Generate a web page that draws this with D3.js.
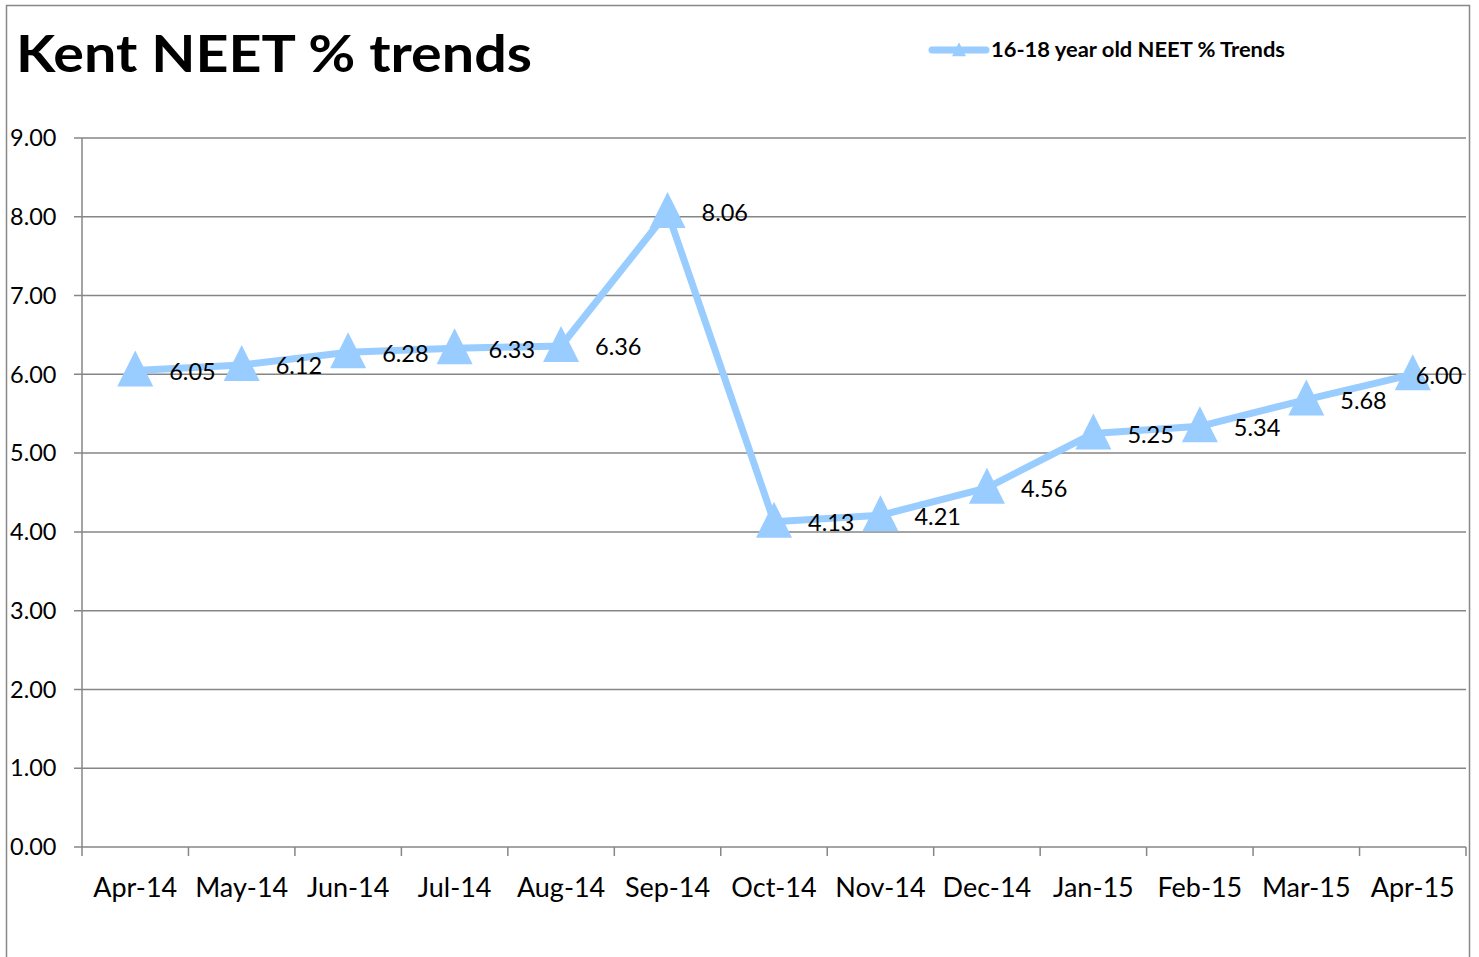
<!DOCTYPE html>
<html>
<head>
<meta charset="utf-8">
<script src="https://cdn.jsdelivr.net/npm/d3@7"></script>
<style>
  body { margin: 0; background: #fff; }
  svg text { font-family: Lato, "Open Sans", sans-serif; fill: #000; }
  .grid line { stroke: #868686; stroke-width: 1.5; }
</style>
</head>
<body>
<div id="chart"></div>
<script>
const months = ["Apr-14", "May-14", "Jun-14", "Jul-14", "Aug-14", "Sep-14", "Oct-14",
    "Nov-14", "Dec-14", "Jan-15", "Feb-15", "Mar-15", "Apr-15"];
const neet = [6.05, 6.12, 6.28, 6.33, 6.36, 8.06, 4.13, 4.21, 4.56, 5.25, 5.34, 5.68, 6.00];
const yTicks = [0, 1, 2, 3, 4, 5, 6, 7, 8, 9];
const seriesName = "16-18 year old NEET % Trends";
const title = "Kent NEET % trends";

const W = 1479, H = 957;
const margin = {top: 138, right: 13, bottom: 110, left: 82},
    width = W - margin.left - margin.right,
    height = H - margin.top - margin.bottom;
const lineColor = "#99ccff";

const svg = d3.select("#chart").append("svg")
    .attr("width", W)
    .attr("height", H);

// outer frame
svg.append("rect")
    .attr("x", 6.5).attr("y", 5.5)
    .attr("width", 1463).attr("height", 960)
    .attr("fill", "none")
    .attr("stroke", "#888")
    .attr("stroke-width", 1.5);

svg.append("text")
    .attr("x", 16).attr("y", 72)
    .style("font-size", "51px")
    .style("font-weight", "bold")
    .attr("textLength", 516)
    .attr("lengthAdjust", "spacingAndGlyphs")
    .text(title);

const g = svg.append("g")
    .attr("transform", "translate(" + margin.left + "," + margin.top + ")");

const x = d3.scaleBand()
    .domain(months)
    .range([0, width]);

const y = d3.scaleLinear()
    .domain([0, 9])
    .range([height, 0]);

// gridlines
g.append("g").attr("class", "grid")
    .selectAll("line").data(yTicks).enter()
    .append("line")
    .attr("x1", -8)
    .attr("x2", width)
    .attr("y1", d => y(d))
    .attr("y2", d => y(d));

// y axis line
g.append("line")
    .attr("x1", 0).attr("x2", 0)
    .attr("y1", 0).attr("y2", height)
    .attr("stroke", "#868686").attr("stroke-width", 1.5);

g.selectAll(".ylab").data(yTicks).enter()
    .append("text")
    .attr("class", "ylab")
    .attr("x", -72)
    .attr("y", d => y(d))
    .attr("dy", "0.35em")
    .style("font-size", "23.5px")
    .text(d => d.toFixed(2));

// x ticks between categories
const tickPos = months.map(m => x(m)).concat([width]);
g.selectAll(".xtick").data(tickPos).enter()
    .append("line")
    .attr("x1", d => d).attr("x2", d => d)
    .attr("y1", height).attr("y2", height + 9)
    .attr("stroke", "#868686").attr("stroke-width", 1.5);

g.selectAll(".xlab").data(months).enter()
    .append("text")
    .attr("x", d => x(d) + x.bandwidth() / 2)
    .attr("y", height + 50)
    .attr("text-anchor", "middle")
    .style("font-size", "27px")
    .text(d => d);

const data = months.map((m, i) => ({month: m, value: neet[i]}));

const line = d3.line()
    .x(d => x(d.month) + x.bandwidth() / 2)
    .y(d => y(d.value));

g.append("path")
    .datum(data)
    .attr("fill", "none")
    .attr("stroke", lineColor)
    .attr("stroke-width", 7)
    .attr("stroke-linejoin", "round")
    .attr("d", line);

// Excel-style marker: a slightly tall triangle
const tallTriangle = {
    draw(ctx, size) {
        const s = Math.sqrt(size) / 2;
        ctx.moveTo(0, -s * 1.11);
        ctx.lineTo(s, s * 0.89);
        ctx.lineTo(-s, s * 0.89);
        ctx.closePath();
    }
};
const tri = d3.symbol().type(tallTriangle).size(36 * 36);

g.selectAll(".pt").data(data).enter()
    .append("path")
    .attr("d", tri)
    .attr("fill", lineColor)
    .attr("transform", d => "translate(" + (x(d.month) + x.bandwidth() / 2) + "," + y(d.value) + ")");

// last label sits over its marker, as in the original
g.selectAll(".vlab").data(data).enter()
    .append("text")
    .attr("x", (d, i) => x(d.month) + x.bandwidth() / 2 + (i === data.length - 1 ? 3 : 34))
    .attr("y", d => y(d.value) + 1)
    .attr("dy", "0.35em")
    .style("font-size", "23.5px")
    .text(d => d.value.toFixed(2));

// legend
const leg = svg.append("g").attr("transform", "translate(930,50)");
leg.append("line")
    .attr("x1", 2).attr("x2", 56)
    .attr("stroke", lineColor).attr("stroke-width", 7)
    .attr("stroke-linecap", "round");
leg.append("path")
    .attr("d", d3.symbol().type(tallTriangle).size(14 * 14))
    .attr("fill", lineColor)
    .attr("transform", "translate(29,0)");
leg.append("text")
    .attr("x", 61)
    .attr("dy", "0.35em")
    .style("font-size", "20px")
    .style("font-weight", "bold")
    .attr("textLength", 294)
    .attr("lengthAdjust", "spacingAndGlyphs")
    .text(seriesName);
</script>
</body>
</html>
